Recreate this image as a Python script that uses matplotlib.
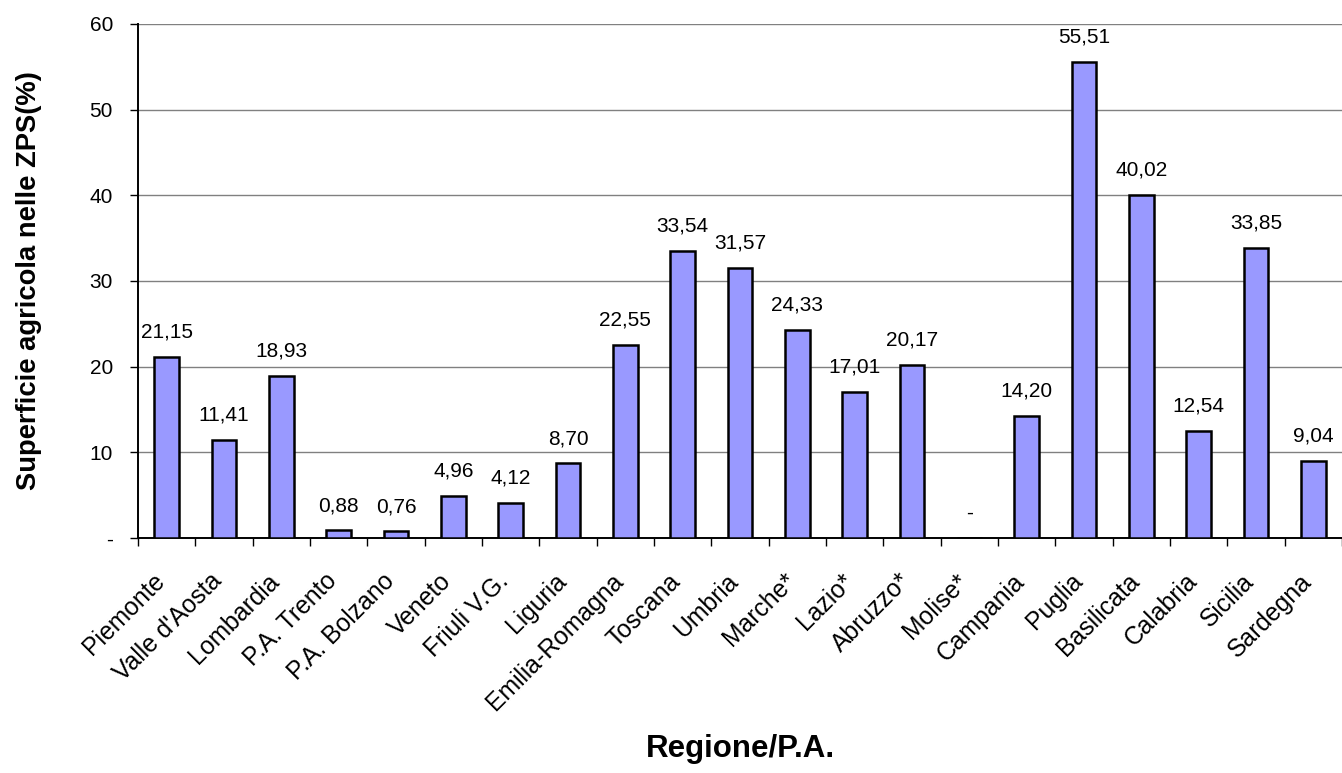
import matplotlib
matplotlib.use("Agg")
import matplotlib.pyplot as plt
import matplotlib.transforms as mtransforms
import numpy as np

plt.rcParams['font.family'] = ['Liberation Sans', 'DejaVu Sans']

regioni = ["Piemonte", "Valle d'Aosta", "Lombardia", "P.A. Trento", "P.A. Bolzano",
           "Veneto", "Friuli V.G.", "Liguria", "Emilia-Romagna", "Toscana", "Umbria",
           "Marche*", "Lazio*", "Abruzzo*", "Molise*", "Campania", "Puglia",
           "Basilicata", "Calabria", "Sicilia", "Sardegna"]
sau_zps = [21.15, 11.41, 18.93, 0.88, 0.76, 4.96, 4.12, 8.70, 22.55, 33.54, 31.57,
           24.33, 17.01, 20.17, 0.0, 14.20, 55.51, 40.02, 12.54, 33.85, 9.04]
y_ticks = [0, 10, 20, 30, 40, 50, 60]
y_tick_labels = ["-", "10", "20", "30", "40", "50", "60"]

fig = plt.figure(figsize=(13.42, 7.73), dpi=100)
ax = fig.add_axes([0.1028, 0.304, 0.8972, 0.665])

x = np.arange(len(regioni))
ax.bar(x, sau_zps, width=0.43, color="#9999ff", edgecolor="black", linewidth=1.8, zorder=3)

# etichette dei valori sopra le barre (formato italiano)
for xi, v in zip(x, sau_zps):
    lab = "-" if v == 0 else f"{v:.2f}".replace(".", ",")
    ax.annotate(lab, (xi, v), xytext=(0, 14), textcoords="offset points",
                ha="center", va="baseline", fontsize=15)

ax.set_xlim(-0.5, len(regioni) - 0.5)
ax.set_ylim(0, 60)
ax.set_yticks(y_ticks)
ax.set_yticklabels(y_tick_labels, fontsize=15)
ax.yaxis.grid(True, color="#808080", linewidth=1.0, zorder=0)

# tick sui confini delle categorie
ax.set_xticks(np.arange(len(regioni) + 1) - 0.5)
ax.set_xticklabels([])
ax.tick_params(axis="x", which="major", length=6, width=1, direction="out")
ax.tick_params(axis="y", length=6, width=1, direction="out", pad=12)

# nomi delle regioni inclinati a 45 gradi, sotto ogni barra
shift = mtransforms.ScaledTranslation(-14 / 100, -31 / 100, fig.dpi_scale_trans)
for xi, nome in zip(x, regioni):
    ax.text(xi, 0, nome, transform=ax.get_xaxis_transform() + shift,
            rotation=45, rotation_mode="anchor", ha="right", va="top", fontsize=17.8)

for s in ["top", "right"]:
    ax.spines[s].set_visible(False)
ax.spines["left"].set_linewidth(1.4)
ax.spines["bottom"].set_linewidth(1.4)

fig.text(740 / 1342, 1 - 757 / 773, "Regione/P.A.", fontsize=22.5, fontweight="bold",
         ha="center", va="baseline")
fig.text(29 / 1342, 1 - 281 / 773, "Superficie agricola nelle ZPS(%)", fontsize=19.7,
         fontweight="bold", rotation=90, ha="center", va="center")

fig.savefig("out.png", dpi=100)
